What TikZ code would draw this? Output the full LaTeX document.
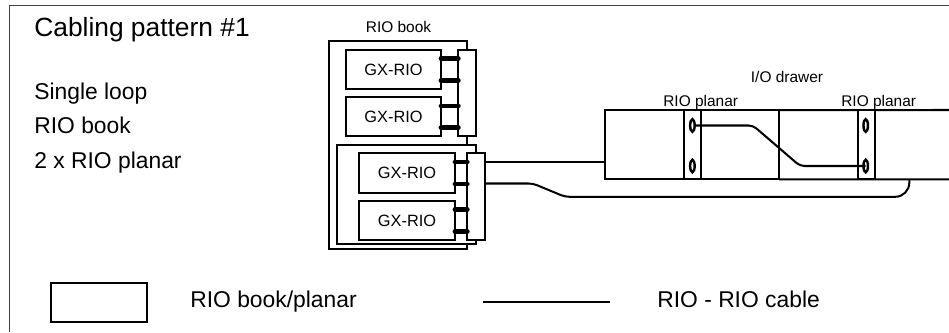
\documentclass[tikz,border=0pt]{standalone}
\usepackage{fontspec}
\setmainfont{Liberation Sans}
\usetikzlibrary{calc,shapes.geometric}
\tikzset{
  boxed/.style 2 args={draw=black,fill=white,line width=1.15pt,inner sep=0pt,outer sep=0pt,
    minimum width=#1*0.02cm,minimum height=#2*0.02cm},
  oval/.style={draw=black,fill=white,ellipse,line width=1.4pt,inner sep=0pt,outer sep=0pt,
    minimum width=0.09cm,minimum height=0.25cm},
  frameline/.style={draw=black!75,line width=0.8pt},
  cable/.style={draw=black,line width=1.15pt,rounded corners=2.5pt},
  bond/.style={draw=black,line width=2.7pt,line cap=round},
  tiny/.style={font=\fontsize{8.8}{10}\selectfont,inner sep=0pt},
  plain/.style={font=\fontsize{13}{15}\selectfont,inner sep=0pt,anchor=base west}
}
\begin{document}
\begin{tikzpicture}[x=0.02cm,y=-0.02cm]
\useasboundingbox (0,0) rectangle (949,332);

\coordinate (frametl) at (9.5,5.5);
\coordinate (frametr) at (949,5.5);
\coordinate (framebl) at (9.5,332);
\draw[frameline] (framebl) -- (frametl) -- (frametr);

\node[plain,font=\fontsize{15}{18}\selectfont] (title) at (34,36.5) {Cabling pattern \#1};
\node[plain] (single) at (34,99) {Single loop};
\node[plain] (book) at (34,133) {RIO book};
\node[plain] (planars) at (34,168) {2 x RIO planar};

\node[tiny,anchor=base] (booklabel) at (398.5,32.5) {RIO book};
\node[boxed={138.3}{208}] (bookouter) at (398.2,145) {};
\node[boxed={17.7}{86}] (busa) at (467.2,93) {};
\node[boxed={95}{39}] (gxa) at (393.5,69.5) {\fontsize{9.3}{11}\selectfont GX-RIO};
\node[boxed={95}{39}] (gxb) at (393.5,116.8) {\fontsize{9.3}{11}\selectfont GX-RIO};
\node[boxed={139}{98.7}] (bookinner) at (406.5,194.7) {};
\node[boxed={17.4}{86.7}] (busb) at (476,196.7) {};
\node[boxed={96}{39.4}] (gxc) at (407,173) {\fontsize{9.3}{11}\selectfont GX-RIO};
\node[boxed={96}{39}] (gxd) at (407,220.5) {\fontsize{9.3}{11}\selectfont GX-RIO};

\foreach \gx/\bus in {gxa/busa,gxb/busa,gxc/busb,gxd/busb}
  \foreach \f in {0.22,0.78} {
    \coordinate (bondend) at ($(\gx.north east)!\f!(\gx.south east)$);
    \draw[bond] (bondend) -- (bondend -| \bus.west);
  }

\node[tiny,anchor=base] (drawerlabel) at (787,82.5) {I/O drawer};
\node[tiny,anchor=base] (planaralabel) at (700.7,106) {RIO planar};
\node[tiny,anchor=base] (planarblabel) at (878.7,106) {RIO planar};

\node[boxed={173.7}{69.3}] (drawer) at (692.2,144.7) {};
\coordinate (edgetop) at (949,110);
\coordinate (edgebot) at (949,179.3);
\draw[cable] (drawer.north east) -- (edgetop);
\draw[cable] (drawer.south east) -- (edgebot);
\node[boxed={17}{69.3}] (planara) at (692.5,144.7) {};
\node[boxed={17}{69.3}] (planarb) at (866.2,144.7) {};
\node[oval] (porta) at (692.4,125.5) {};
\node[oval] (portb) at (692.4,166) {};
\node[oval] (portc) at (865.7,125.5) {};
\node[oval] (portd) at (865.7,166) {};

\draw[cable] (porta.east) -- (753,125.5) -- (800,166) -- (portd.center);

\coordinate (cablea) at (484.7,162.3);
\coordinate (cableb) at (484.7,183.5);
\coordinate (cabletail) at (909.3,179.3);
\draw[cable] (cablea) -- (cablea -| drawer.west);
\draw[cable] (cableb) -- (533,183.5) -- (565,196.8) [rounded corners=8pt] -- (909.3,196.8) -- (cabletail);

\node[boxed={96.6}{38.4}] (legendbox) at (99,302.5) {};
\node[plain] (legendbook) at (190,307.5) {RIO book/planar};
\coordinate (legendstart) at (483,302);
\coordinate (legendend) at (610,302);
\draw[cable] (legendstart) -- (legendend);
\node[plain] (legendcable) at (657,307.5) {RIO - RIO cable};
\end{tikzpicture}
\end{document}
